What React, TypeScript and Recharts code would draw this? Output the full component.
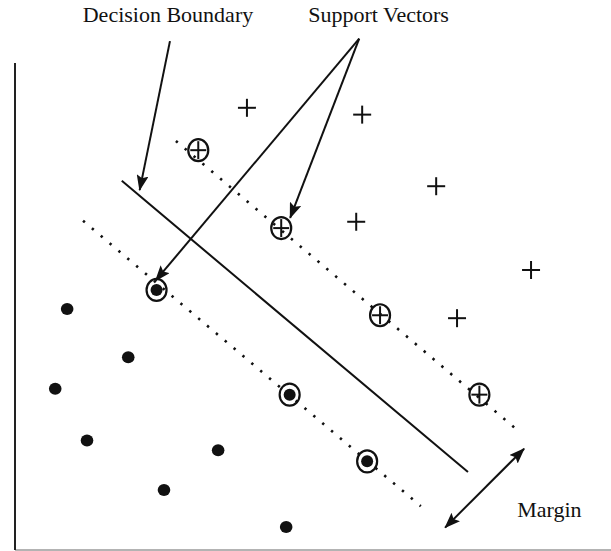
import { ReferenceDot, ReferenceLine, Scatter, ScatterChart, XAxis, YAxis } from 'recharts';

// points (x: 0..12, y: 0..10 inside the axes)
const positives = [
  { x: 4.67, y: 9.08 },
  { x: 6.99, y: 8.94 },
  { x: 8.48, y: 7.47 },
  { x: 6.87, y: 6.74 },
  { x: 10.39, y: 5.75 },
  { x: 8.9, y: 4.76 },
];
const positiveSupport = [
  { x: 3.69, y: 8.21 },
  { x: 5.36, y: 6.61 },
  { x: 7.35, y: 4.82 },
  { x: 9.35, y: 3.19 },
];
const negatives = [
  { x: 1.05, y: 4.95 },
  { x: 2.28, y: 3.96 },
  { x: 0.81, y: 3.31 },
  { x: 1.45, y: 2.25 },
  { x: 4.09, y: 2.05 },
  { x: 3.0, y: 1.23 },
  { x: 5.46, y: 0.47 },
];
const negativeSupport = [
  { x: 2.85, y: 5.34 },
  { x: 5.53, y: 3.19 },
  { x: 7.09, y: 1.82 },
];

const boundary = [{ x: 2.15, y: 7.58 }, { x: 9.12, y: 1.6 }];
const upperMargin = [{ x: 3.24, y: 8.4 }, { x: 10.07, y: 2.5 }];
const lowerMargin = [{ x: 1.37, y: 6.76 }, { x: 8.17, y: 0.9 }];

const boundaryArrow = [{ x: 3.12, y: 10.45 }, { x: 2.51, y: 7.39 }];
const supportArrowA = [{ x: 6.93, y: 10.5 }, { x: 5.54, y: 6.82 }];
const supportArrowB = [{ x: 6.93, y: 10.5 }, { x: 2.83, y: 5.53 }];
const marginArrow = [{ x: 8.66, y: 0.46 }, { x: 10.25, y: 2.08 }];

const labels = [
  { text: 'Decision Boundary', x: 3.08, y: 10.84, anchor: 'middle' },
  { text: 'Support Vectors', x: 7.32, y: 10.84, anchor: 'middle' },
  { text: 'Margin', x: 10.11, y: 0.68, anchor: 'start' },
];

const INK = '#111';
const FONT = '"Liberation Serif", "Times New Roman", serif';

const Plus = ({ cx, cy }: any) => (
  <g stroke={INK} strokeWidth={2}>
    <line x1={cx - 9} y1={cy} x2={cx + 9} y2={cy} />
    <line x1={cx} y1={cy - 9} x2={cx} y2={cy + 9} />
  </g>
);

const CircledPlus = ({ cx, cy }: any) => (
  <g stroke={INK} fill="none">
    <ellipse cx={cx} cy={cy} rx={10} ry={11} strokeWidth={2.2} />
    <line x1={cx - 8} y1={cy} x2={cx + 8} y2={cy} strokeWidth={2} />
    <line x1={cx} y1={cy - 9} x2={cx} y2={cy + 9} strokeWidth={2} />
  </g>
);

const Dot = ({ cx, cy }: any) => <ellipse cx={cx} cy={cy} rx={6.3} ry={6} fill={INK} />;

const CircledDot = ({ cx, cy }: any) => (
  <g>
    <ellipse cx={cx} cy={cy} rx={10} ry={11} stroke={INK} strokeWidth={2.2} fill="none" />
    <ellipse cx={cx} cy={cy} rx={6} ry={6} fill={INK} />
  </g>
);

const arrowLine = (start: boolean) => (p: any) => (
  <line
    x1={p.x1}
    y1={p.y1}
    x2={p.x2}
    y2={p.y2}
    stroke={INK}
    strokeWidth={2}
    markerEnd="url(#head)"
    markerStart={start ? 'url(#head)' : undefined}
  />
);

const seg = (pts: { x: number; y: number }[]) => pts.map((p) => ({ x: p.x, y: p.y }));

export default function App() {
  return (
    <div style={{ position: 'absolute', left: 0, top: 0, background: '#fff' }}>
      <ScatterChart width={611} height={551} margin={{ top: 63, right: 0, bottom: 0, left: 0 }}>
        <defs>
          <marker
            id="head"
            viewBox="0 0 16 12"
            refX={15}
            refY={6}
            markerWidth={16}
            markerHeight={12}
            markerUnits="userSpaceOnUse"
            orient="auto-start-reverse"
          >
            <path d="M0,0 L16,6 L0,12 L3,6 z" fill={INK} />
          </marker>
        </defs>
        <XAxis
          type="number"
          dataKey="x"
          domain={[0, 12]}
          allowDataOverflow
          tick={false}
          tickLine={false}
          height={1}
          axisLine={{ stroke: '#9a9a9a', strokeWidth: 1.5 }}
        />
        <YAxis
          type="number"
          dataKey="y"
          domain={[0, 10]}
          allowDataOverflow
          tick={false}
          tickLine={false}
          width={15}
          axisLine={{ stroke: '#222', strokeWidth: 2 }}
        />

        <ReferenceLine segment={seg(boundary)} stroke={INK} strokeWidth={2} ifOverflow="visible" />
        <ReferenceLine
          segment={seg(upperMargin)}
          stroke={INK}
          strokeWidth={2.6}
          strokeDasharray="2.4 9.2"
          ifOverflow="visible"
        />
        <ReferenceLine
          segment={seg(lowerMargin)}
          stroke={INK}
          strokeWidth={2.6}
          strokeDasharray="2.4 9.2"
          ifOverflow="visible"
        />

        <Scatter data={positives} shape={Plus} isAnimationActive={false} />
        <Scatter data={positiveSupport} shape={CircledPlus} isAnimationActive={false} />
        <Scatter data={negatives} shape={Dot} isAnimationActive={false} />
        <Scatter data={negativeSupport} shape={CircledDot} isAnimationActive={false} />

        <ReferenceLine segment={seg(boundaryArrow)} ifOverflow="visible" shape={arrowLine(false)} />
        <ReferenceLine segment={seg(supportArrowA)} ifOverflow="visible" shape={arrowLine(false)} />
        <ReferenceLine segment={seg(supportArrowB)} ifOverflow="visible" shape={arrowLine(false)} />
        <ReferenceLine segment={seg(marginArrow)} ifOverflow="visible" shape={arrowLine(true)} />

        {labels.map((l) => (
          <ReferenceDot
            key={l.text}
            x={l.x}
            y={l.y}
            ifOverflow="visible"
            shape={(p: any) => (
              <text x={p.cx} y={p.cy} textAnchor={l.anchor} fontFamily={FONT} fontSize={22} fill={INK}>
                {l.text}
              </text>
            )}
          />
        ))}
      </ScatterChart>
    </div>
  );
}
